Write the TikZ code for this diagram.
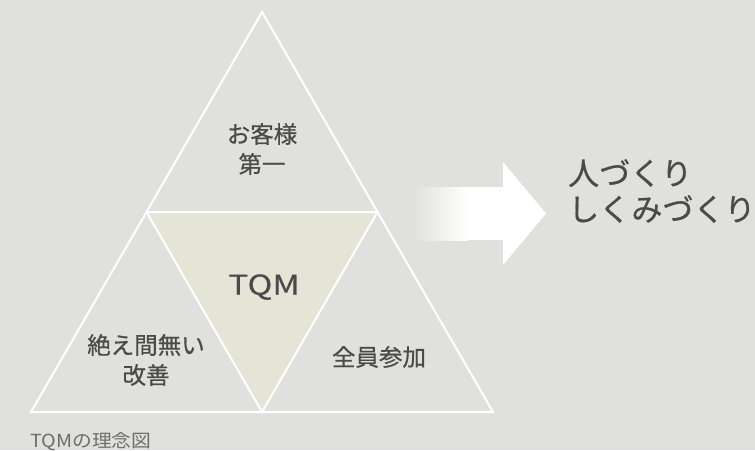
\documentclass[tikz,border=0pt]{standalone}
\usepackage{fontspec}
\setmainfont{Noto Sans CJK JP}
\newfontfamily\medfont{Noto Sans CJK JP}[FakeBold=0.6]
\newfontfamily\tqmfont{Noto Sans CJK JP}[FakeStretch=1.22,FakeBold=0.4]
\newfontfamily\capfont{Noto Sans CJK JP}[FakeStretch=1.1]
\definecolor{bgc}{HTML}{E0E0DE}
\definecolor{innerc}{HTML}{E5E5D7}
\definecolor{txt}{HTML}{4A4A4A}
\definecolor{captxt}{HTML}{6E6E6E}
\tikzset{
  edge/.style={draw=white, line width=2pt, line join=miter},
  lbl/.style={text=txt, font=\medfont\fontsize{23.5}{30}\selectfont, align=center, inner sep=0pt},
  biglbl/.style={text=txt, font=\medfont\fontsize{31}{36}\selectfont, align=left, inner sep=0pt, anchor=west},
}
\begin{document}
\begin{tikzpicture}[x=1pt,y=-1pt]
\fill[bgc] (0,0) rectangle (755,450);
\useasboundingbox (0,0) rectangle (755,450);
% vertices
\coordinate (A) at (262,12);
\coordinate (BL) at (31,412);
\coordinate (BR) at (493,412);
\coordinate (ML) at (146.5,212);
\coordinate (MR) at (377.5,212);
\coordinate (MB) at (262,412);
% inner triangle
\fill[innerc] (ML) -- (MR) -- (MB) -- cycle;
\draw[edge] (A) -- (BL) -- (BR) -- cycle;
\draw[edge] (ML) -- (MR) -- (MB) -- cycle;
% arrow
\fill[white] (413,187) -- (503,187) -- (503,162) -- (546,213.5) -- (503,265) -- (503,240) -- (413,240) -- cycle;
\shade[left color=bgc, right color=white] (412,187) rectangle (468,240);
% labels
\node[lbl] (top) at (262,149) {お客様\\第一};
\node[text=txt, font=\tqmfont\fontsize{27.5}{30}\selectfont, inner sep=0pt] (tqm) at (264,287) {TQM};
\node[lbl] (left) at (146,360) {絶え間無い\\改善};
\node[lbl] (right) at (379,357) {全員参加};
\node[biglbl] (res) at (568,191) {人づくり\\しくみづくり};
\node[text=captxt, font=\capfont\fontsize{18}{20}\selectfont, anchor=west, inner sep=0pt] (cap) at (30,442) {TQMの理念図};
\end{tikzpicture}
\end{document}
